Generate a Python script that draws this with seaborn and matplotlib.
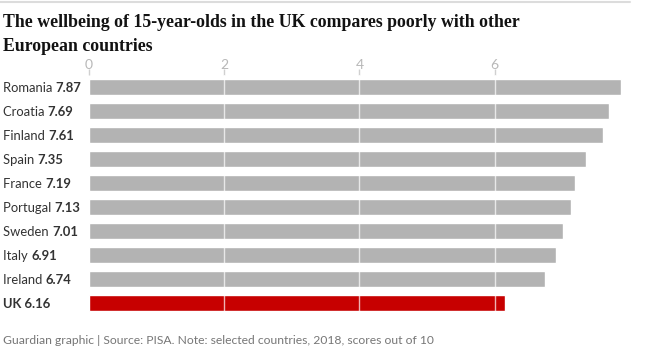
import matplotlib
matplotlib.use("Agg")
import matplotlib.pyplot as plt
import seaborn as sns
import pandas as pd
from matplotlib.lines import Line2D

countries = ["Romania", "Croatia", "Finland", "Spain", "France", "Portugal",
             "Sweden", "Italy", "Ireland", "UK"]
scores = [7.87, 7.69, 7.61, 7.35, 7.19, 7.13, 7.01, 6.91, 6.74, 6.16]
highlight = ["other"] * 9 + ["UK"]
xticks = [0, 2, 4, 6]

title_lines = ["The wellbeing of 15-year-olds in the UK compares poorly with other",
               "European countries"]
footer = "Guardian graphic | Source: PISA. Note: selected countries, 2018, scores out of 10"

sns.set_theme(style="white")
plt.rcParams["font.family"] = ["Lato", "DejaVu Sans"]

df = pd.DataFrame({"country": countries, "score": scores, "group": highlight})

W, H = 664, 354
fig = plt.figure(figsize=(W / 100, H / 100), dpi=100)
left, right, top, bottom = 89, 623, 75, 315
ax = fig.add_axes([left / W, 1 - bottom / H, (right - left) / W, (bottom - top) / H])

sns.barplot(data=df, x="score", y="country", hue="group",
            palette={"other": "#b3b3b3", "UK": "#c70000"},
            width=0.667, dodge=False, legend=False, ax=ax, saturation=1)

ax.set_xlim(0, 7.9)
ax.set_ylim(9.5, -0.5)
for s in ax.spines.values():
    s.set_visible(False)
ax.set_xlabel("")
ax.set_ylabel("")
ax.set_yticks([])
ax.set_xticks(xticks)
ax.xaxis.tick_top()
ax.tick_params(axis="x", top=True, bottom=False, length=4, width=1, color="#d0d0d0",
               labelsize=10, labelcolor="#b8b8b8", pad=-1, direction="out")
for xt in xticks[1:]:
    ax.axvline(xt, color="white", lw=1, alpha=0.7, zorder=5)

# labels
for i, (c, v) in enumerate(zip(countries, scores)):
    y_px = 87 + 24 * i
    yf = 1 - (y_px + 1) / H
    if c == "UK":
        fig.text(3 / W, yf, f"{c} {v:.2f}", fontsize=9.4, fontweight="bold",
                 color="#333333", va="center", ha="left")
    else:
        t = fig.text(3 / W, yf, c + " ", fontsize=9.4, color="#333333",
                     va="center", ha="left")
        ax.annotate(f"{v:.2f}", xy=(1, 0.5), xycoords=t, fontsize=9.4,
                    fontweight="bold", color="#333333", va="center", ha="left",
                    annotation_clip=False)

for k, line in enumerate(title_lines):
    fig.text(3 / W, 1 - (27 + 24 * k) / H, line, fontsize=12.8, fontweight="bold",
             family=["Liberation Serif", "DejaVu Serif"], color="#121212",
             va="baseline", ha="left")
fig.text(3 / W, 1 - 341 / H, footer, fontsize=8.7, color="#767676",
         va="center", ha="left")
fig.add_artist(Line2D([0, 630 / W], [1 - 1.5 / H, 1 - 1.5 / H], color="#dcdcdc",
                      lw=1.5, transform=fig.transFigure))

fig.savefig("out.png", dpi=100, facecolor="white")
